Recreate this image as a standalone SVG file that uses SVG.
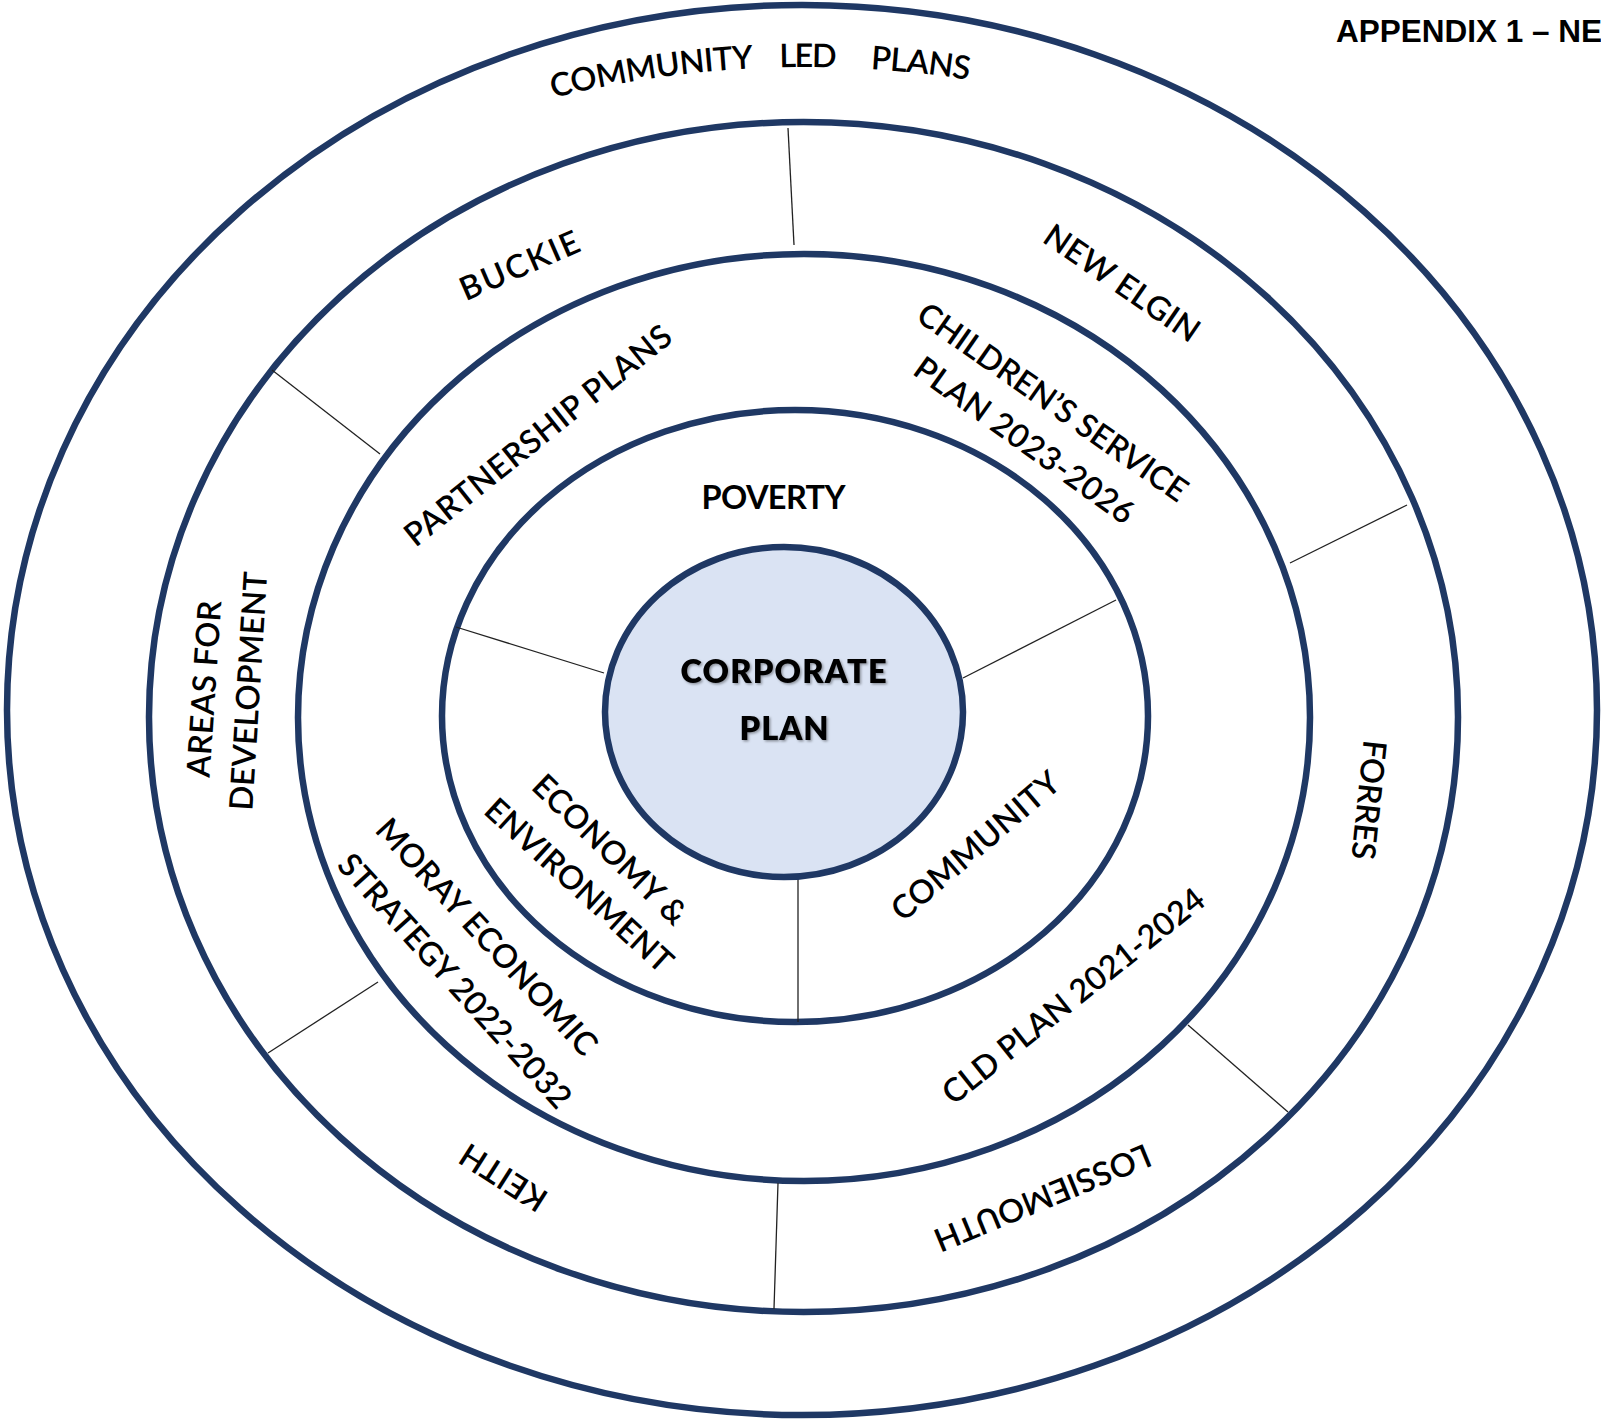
<svg xmlns="http://www.w3.org/2000/svg" xmlns:xlink="http://www.w3.org/1999/xlink" width="1601" height="1419" viewBox="0 0 1601 1419">
<style>
.ring{fill:none;stroke:#1f3864;stroke-width:6.5}
.core{fill:#dae3f3;stroke:#1f3864;stroke-width:6.5}
.div{stroke:#222;stroke-width:1.3;fill:none}
.lbl{font-family:Lato,"Open Sans","Liberation Sans",sans-serif;font-size:32.5px;font-weight:600;fill:#000}
.bold{font-weight:700}
.heavy{font-weight:800}
.title{font-family:"Liberation Sans",Arial,sans-serif;font-weight:700;font-size:31.5px;fill:#000}
</style>
<defs>
<path id="arcTop" d="M551,98.5 A1040,1040 0 0 1 1010,87.4"/>
<filter id="shadow" x="-10%" y="-30%" width="120%" height="160%">
<feDropShadow dx="1.5" dy="1.5" stdDeviation="1.2" flood-color="#000" flood-opacity="0.35"/>
</filter>
</defs>
<rect width="1601" height="1419" fill="#fff"/>
<g id="ring-outer"><ellipse class="ring" cx="802" cy="710" rx="795" ry="705"/></g>
<g id="ring-localities"><ellipse class="ring" cx="803.5" cy="717" rx="654.5" ry="595"/></g>
<g id="ring-partnership"><ellipse class="ring" cx="804" cy="717.5" rx="506" ry="463.5"/></g>
<g id="ring-priorities"><ellipse class="ring" cx="795" cy="716" rx="353" ry="306"/></g>
<g id="connectors">
<line class="div" x1="788" y1="128" x2="794" y2="245"/>
<line class="div" x1="272" y1="370" x2="380" y2="454"/>
<line class="div" x1="1407" y1="505" x2="1290" y2="563"/>
<line class="div" x1="1188" y1="1025" x2="1288" y2="1112"/>
<line class="div" x1="778" y1="1183" x2="774" y2="1309"/>
<line class="div" x1="378" y1="982" x2="268" y2="1053"/>
<line class="div" x1="456" y1="627" x2="604" y2="673"/>
<line class="div" x1="1116" y1="600" x2="963" y2="678"/>
<line class="div" x1="798" y1="878" x2="798" y2="1022"/>
</g>
<g id="corporate-plan">
<ellipse class="core" cx="784" cy="712" rx="179" ry="165"/>
<g filter="url(#shadow)">
<text class="lbl heavy" x="783.5" y="683" font-size="33" text-anchor="middle" textLength="206">CORPORATE</text>
<text class="lbl heavy" x="784" y="740" font-size="33" text-anchor="middle" textLength="89">PLAN</text>
</g>
</g>
<g id="title"><text class="title" x="1336" y="42">APPENDIX 1 – NE</text></g>
<g id="community-led-plans">
<text class="lbl"><textPath xlink:href="#arcTop" href="#arcTop" startOffset="2" textLength="203">COMMUNITY</textPath></text>
<text class="lbl"><textPath xlink:href="#arcTop" href="#arcTop" startOffset="231" textLength="57">LED</textPath></text>
<text class="lbl"><textPath xlink:href="#arcTop" href="#arcTop" startOffset="322" textLength="99">PLANS</textPath></text>
</g>
<g id="buckie"><text class="lbl" transform="translate(519.5,265.3) rotate(-23.5)" y="11.5" text-anchor="middle" textLength="127">BUCKIE</text></g>
<g id="new-elgin"><text class="lbl" transform="translate(1122,283) rotate(34.5)" y="11.5" text-anchor="middle" textLength="181">NEW ELGIN</text></g>
<g id="areas-for-development">
<text class="lbl" transform="translate(204,689) rotate(-86.1)" y="11.5" text-anchor="middle" textLength="177">AREAS FOR</text>
<text class="lbl" transform="translate(248.3,691) rotate(-86.4)" y="11.5" text-anchor="middle" textLength="239">DEVELOPMENT</text>
</g>
<g id="forres"><text class="lbl" transform="translate(1369,800) rotate(96)" y="11.5" text-anchor="middle" textLength="120">FORRES</text></g>
<g id="keith"><text class="lbl" transform="translate(503.3,1177.5) rotate(-147.4)" y="11.5" text-anchor="middle" textLength="96">KEITH</text></g>
<g id="lossiemouth"><text class="lbl" transform="translate(1042.5,1197.8) rotate(157.6)" y="11.5" text-anchor="middle" textLength="231">LOSSIEMOUTH</text></g>
<g id="partnership-plans"><text class="lbl" transform="translate(537.8,435.3) rotate(-38.7)" y="11.5" text-anchor="middle" textLength="332">PARTNERSHIP PLANS</text></g>
<g id="childrens-service-plan">
<text class="lbl" transform="translate(1052.8,402) rotate(34.9)" y="11.5" text-anchor="middle" textLength="321">CHILDREN’S SERVICE</text>
<text class="lbl" transform="translate(1024.5,440.3) rotate(35.5)" y="11.5" text-anchor="middle" textLength="262">PLAN 2023-2026</text>
</g>
<g id="moray-economic-strategy">
<text class="lbl" transform="translate(487,936.7) rotate(47.3)" y="11.5" text-anchor="middle" textLength="309">MORAY ECONOMIC</text>
<text class="lbl" transform="translate(455,980.8) rotate(47.9)" y="11.5" text-anchor="middle" textLength="330">STRATEGY 2022-2032</text>
</g>
<g id="cld-plan"><text class="lbl" transform="translate(1073.3,995.8) rotate(-38.5)" y="11.5" text-anchor="middle" textLength="325">CLD PLAN 2021-2024</text></g>
<g id="poverty"><text class="lbl bold" x="773.5" y="509" font-size="31" text-anchor="middle" textLength="144">POVERTY</text></g>
<g id="economy-environment">
<text class="lbl" transform="translate(610,849.5) rotate(44)" y="11.5" text-anchor="middle" textLength="200">ECONOMY &amp;</text>
<text class="lbl" transform="translate(579.2,885.3) rotate(42.3)" y="11.5" text-anchor="middle" textLength="241">ENVIRONMENT</text>
</g>
<g id="community"><text class="lbl" transform="translate(975.3,845.8) rotate(-40.5)" y="11.5" text-anchor="middle" textLength="210">COMMUNITY</text></g>
</svg>
